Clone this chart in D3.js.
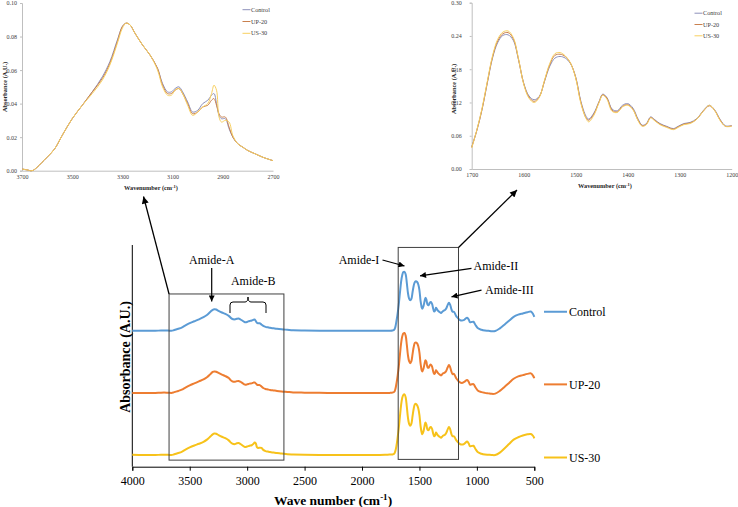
<!DOCTYPE html>
<html><head><meta charset="utf-8">
<script src="https://cdn.jsdelivr.net/npm/d3@7"></script>
<style>
body{margin:0;background:#fff}
svg{display:block}
svg text{font-family:"Liberation Serif","Times New Roman",Times,"DejaVu Serif",serif !important;}
</style>
</head><body><svg id="c" width="738" height="507"></svg>
<script>
// ---------------- DATA ----------------
const seriesNames = ["Control", "UP-20", "US-30"];
const stackOffsets = [0.51, 0.255, 0]; // vertical stacking of spectra (A.U.)

// Amide-A / Amide-B region (left inset)
const wnA = [3700,3680,3660,3640,3620,3600,3570,3540,3500,3460,3420,3380,3350,3320,3300,3285,3270,3250,3220,3190,3160,3140,3120,3105,3090,3075,3060,3040,3020,3000,2980,2960,2945,2935,2925,2915,2905,2890,2875,2860,2840,2820,2800,2770,2740,2700];
const controlA = [0.001,0.0005,0.000,0.002,0.005,0.008,0.013,0.021,0.031,0.039,0.047,0.056,0.065,0.078,0.086,0.088,0.087,0.082,0.075,0.069,0.061,0.052,0.047,0.047,0.049,0.050,0.047,0.041,0.035,0.036,0.040,0.042,0.045,0.046,0.040,0.033,0.031,0.031,0.025,0.020,0.016,0.014,0.012,0.010,0.008,0.006];
const up20A    = [0.001,0.0005,0.000,0.002,0.005,0.008,0.013,0.021,0.031,0.039,0.047,0.055,0.064,0.077,0.086,0.088,0.087,0.082,0.075,0.069,0.061,0.051,0.046,0.046,0.048,0.049,0.046,0.040,0.034,0.035,0.038,0.039,0.042,0.043,0.039,0.034,0.032,0.032,0.026,0.020,0.016,0.014,0.012,0.010,0.008,0.006];
const us30A    = [0.001,0.0005,0.000,0.002,0.005,0.008,0.013,0.021,0.031,0.039,0.046,0.054,0.063,0.076,0.085,0.088,0.087,0.082,0.075,0.069,0.060,0.050,0.045,0.045,0.048,0.049,0.046,0.039,0.033,0.035,0.038,0.040,0.046,0.051,0.048,0.032,0.029,0.030,0.029,0.021,0.016,0.014,0.012,0.010,0.008,0.006];

// Amide-I / II / III region (right inset)
const wnI = [1700,1690,1680,1670,1660,1650,1640,1630,1620,1610,1600,1590,1580,1570,1560,1550,1540,1530,1520,1510,1500,1490,1480,1475,1465,1455,1448,1440,1430,1420,1410,1400,1390,1380,1372,1364,1356,1348,1338,1325,1312,1303,1292,1280,1267,1255,1243,1233,1222,1212,1200];
const controlI = [0.040,0.070,0.108,0.155,0.200,0.228,0.241,0.242,0.232,0.197,0.155,0.132,0.125,0.131,0.158,0.185,0.200,0.203,0.200,0.190,0.166,0.122,0.095,0.090,0.101,0.122,0.135,0.129,0.108,0.105,0.115,0.118,0.110,0.090,0.079,0.082,0.094,0.089,0.082,0.077,0.073,0.077,0.082,0.084,0.091,0.105,0.115,0.107,0.089,0.078,0.078];
const up20I    = [0.039,0.070,0.108,0.156,0.202,0.231,0.244,0.246,0.235,0.198,0.154,0.130,0.122,0.130,0.159,0.188,0.205,0.207,0.203,0.191,0.165,0.120,0.092,0.088,0.099,0.121,0.134,0.128,0.106,0.103,0.113,0.116,0.108,0.088,0.078,0.081,0.093,0.088,0.081,0.076,0.072,0.076,0.081,0.083,0.090,0.104,0.114,0.106,0.088,0.077,0.078];
const us30I    = [0.038,0.071,0.110,0.158,0.204,0.234,0.247,0.249,0.237,0.199,0.153,0.128,0.120,0.129,0.160,0.190,0.208,0.210,0.204,0.191,0.164,0.118,0.091,0.085,0.097,0.120,0.133,0.126,0.104,0.102,0.112,0.115,0.107,0.087,0.077,0.080,0.092,0.087,0.080,0.075,0.071,0.075,0.080,0.082,0.090,0.104,0.115,0.106,0.087,0.077,0.077];

// Remaining parts of the full spectrum (main chart only)
const wnHead = [4000, 3900, 3800, 3750];
const headControl = [0, 0, 0, 0.001];
const headUP20    = [0, 0, 0, 0.001];
const headUS30    = [0.001, 0, 0, 0.001];

const wnMid = [2650, 2600, 2500, 2300, 2100, 1900, 1800, 1760, 1735, 1720, 1710];
const midControl = [0.004, 0.002, 0.001, 0, 0, 0, 0, 0, 0.001, 0.004, 0.015];
const midUP20    = [0.004, 0.002, 0.001, 0, 0, 0, 0, 0, 0.001, 0.004, 0.015];
const midUS30    = [0.003, 0.002, 0.001, 0, 0, 0, 0.001, 0.002, 0.002, 0.005, 0.016];

const wnTail = [1180,1165,1150,1130,1110,1085,1070,1060,1045,1030,1010,990,960,930,900,870,840,800,760,720,680,640,600,560,530,510,500];
const tailControl = [0.060,0.052,0.045,0.042,0.045,0.053,0.045,0.035,0.036,0.037,0.022,0.010,0.004,0.001,0.000,-0.002,-0.001,0.010,0.025,0.041,0.057,0.066,0.071,0.076,0.079,0.068,0.057];
const tailUP20    = [0.060,0.051,0.044,0.041,0.045,0.053,0.044,0.034,0.035,0.036,0.021,0.009,0.003,0.000,-0.002,-0.004,-0.003,0.008,0.024,0.041,0.058,0.068,0.073,0.078,0.080,0.070,0.060];
const tailUS30    = [0.061,0.053,0.046,0.043,0.046,0.055,0.046,0.036,0.037,0.038,0.023,0.011,0.005,0.002,0.001,0.000,0.000,0.010,0.027,0.045,0.063,0.073,0.080,0.085,0.086,0.078,0.068];

const insetATicksX = [3700, 3500, 3300, 3100, 2900, 2700];
const insetATicksY = [0, 0.02, 0.04, 0.06, 0.08, 0.10];
const insetITicksX = [1700, 1600, 1500, 1400, 1300, 1200];
const insetITicksY = [0, 0.06, 0.12, 0.18, 0.24, 0.30];
const mainTicksX = [4000, 3500, 3000, 2500, 2000, 1500, 1000, 500];

// ---------------- STYLE / LAYOUT ----------------
const FONT = '"Liberation Serif","Times New Roman",Times,serif';
const mainColors = ["#5b9bd5", "#ed7d31", "#f7c21a"];
const insetColors = ["#8d90ba", "#c9804e", "#f8d060"];

const svg = d3.select("#c");
svg.append("rect").attr("width", 738).attr("height", 507).attr("fill", "#fff");

const zip = (w, v) => w.map((x, i) => [x, v[i]]);
const A = [controlA, up20A, us30A];
const I = [controlI, up20I, us30I];
const H = [headControl, headUP20, headUS30];
const M = [midControl, midUP20, midUS30];
const T = [tailControl, tailUP20, tailUS30];

// markers
const defs = svg.append("defs");
defs.append("marker").attr("id", "ah").attr("viewBox", "0 0 10 10")
  .attr("refX", 10).attr("refY", 5).attr("markerWidth", 7).attr("markerHeight", 6)
  .attr("markerUnits", "userSpaceOnUse").attr("orient", "auto")
  .append("path").attr("d", "M0,0L10,5L0,10z").attr("fill", "#000");
defs.append("marker").attr("id", "ahBig").attr("viewBox", "0 0 10 10")
  .attr("refX", 10).attr("refY", 5).attr("markerWidth", 9).attr("markerHeight", 7)
  .attr("markerUnits", "userSpaceOnUse").attr("orient", "auto")
  .append("path").attr("d", "M0,0L10,5L0,10z").attr("fill", "#000");

// ---------------- INSETS ----------------
function drawInset(cfg) {
  const g = svg.append("g");
  const x = d3.scaleLinear().domain(cfg.xd).range(cfg.xr);
  const y = d3.scaleLinear().domain(cfg.yd).range(cfg.yr);
  const ax = g.append("g").attr("transform", `translate(0,${cfg.yr[0]})`)
    .call(d3.axisBottom(x).tickValues(cfg.tx).tickFormat(d3.format("d")).tickSize(0).tickPadding(4));
  const ay = g.append("g").attr("transform", `translate(${cfg.xr[0]},0)`)
    .call(d3.axisLeft(y).tickValues(cfg.ty).tickFormat(d3.format(".2f")).tickSize(2).tickPadding(cfg.yPad));
  [ax, ay].forEach(a => {
    a.attr("font-family", FONT);
    a.select(".domain").attr("stroke", "#bfbfbf");
    a.selectAll(".tick line").attr("stroke", "#bfbfbf");
    a.selectAll("text").attr("font-size", 6).attr("fill", "#404040");
  });
  const line = d3.line().x(d => x(d[0])).y(d => y(d[1])).curve(d3.curveCatmullRom.alpha(0.5));
  cfg.data.forEach((d, i) => {
    g.append("path").attr("d", line(d)).attr("fill", "none")
      .attr("stroke", insetColors[i]).attr("stroke-width", 1);
  });
  // axis titles
  const xt = g.append("text").attr("x", cfg.xtPos[0]).attr("y", cfg.xtPos[1])
    .attr("text-anchor", "middle").attr("font-size", 6.3)
    .attr("font-weight", "bold").attr("fill", "#262626").text("Wavenumber (cm");
  xt.append("tspan").attr("baseline-shift", "super").attr("font-size", 4.5).text("-1");
  xt.append("tspan").text(")");
  g.append("text").attr("transform", `translate(${cfg.ytPos[0]},${cfg.ytPos[1]}) rotate(-90)`)
    .attr("text-anchor", "middle").attr("dy", "0.35em").attr("font-size", 6.3)
    .attr("font-weight", "bold").attr("fill", "#262626").text("Absorbance (A.U.)");
  // legend
  seriesNames.forEach((n, i) => {
    const ly = cfg.leg[1] + i * cfg.leg[2];
    g.append("line").attr("x1", cfg.leg[0]).attr("x2", cfg.leg[0] + 8).attr("y1", ly).attr("y2", ly)
      .attr("stroke", insetColors[i]).attr("stroke-width", 1);
    g.append("text").attr("x", cfg.leg[0] + 8.5).attr("y", ly).attr("dy", "0.35em")
      .attr("font-size", 6.2).attr("fill", "#404040").text(n);
  });
}

drawInset({
  xd: [3700, 2700], xr: [22, 273], yd: [0, 0.10], yr: [170.7, 3],
  tx: insetATicksX, ty: insetATicksY, yPad: 3,
  data: A.map(v => zip(wnA, v)),
  xtPos: [151, 190], ytPos: [5, 87], leg: [242.5, 9.7, 11.8]
});
drawInset({
  xd: [1700, 1200], xr: [471.7, 731.7], yd: [0, 0.30], yr: [169, 2.7],
  tx: insetITicksX, ty: insetITicksY, yPad: 8,
  data: I.map(v => zip(wnI, v)),
  xtPos: [605, 187.5], ytPos: [453.5, 89], leg: [694.5, 13.2, 11.3]
});

// ---------------- MAIN CHART ----------------
const x = d3.scaleLinear().domain([4000, 500]).range([132.3, 534.3]);
const y = d3.scaleLinear().domain([-0.048, 0.862]).range([466.7, 245]);

const gx = svg.append("g").attr("transform", `translate(0,${y.range()[0]})`)
  .call(d3.axisBottom(x).tickValues(mainTicksX).tickFormat(d3.format("d")).tickSize(4).tickPadding(6));
gx.attr("font-family", FONT);
gx.select(".domain").attr("stroke", "#000");
gx.selectAll(".tick line").attr("stroke", "#000");
gx.selectAll("text").attr("font-size", 12).attr("fill", "#000");

svg.append("line").attr("x1", x(4000)).attr("x2", x(4000))
  .attr("y1", y.range()[1]).attr("y2", y.range()[0]).attr("stroke", "#000");

const mline = d3.line().x(d => x(d[0])).y(d => y(d[1])).curve(d3.curveCatmullRom.alpha(0.5));
seriesNames.forEach((n, i) => {
  const pts = [].concat(zip(wnHead, H[i]), zip(wnA, A[i]), zip(wnMid, M[i]), zip(wnI, I[i]), zip(wnTail, T[i]))
    .map(d => [d[0], d[1] + stackOffsets[i]]);
  svg.append("path").attr("d", mline(pts)).attr("fill", "none")
    .attr("stroke", mainColors[i]).attr("stroke-width", 2).attr("stroke-linejoin", "round");
  // legend
  const ly = y(stackOffsets[i]) - [19, 8.5, -2.5][i];
  svg.append("line").attr("x1", 544).attr("x2", 567).attr("y1", ly).attr("y2", ly)
    .attr("stroke", mainColors[i]).attr("stroke-width", 2);
  svg.append("text").attr("x", 569).attr("y", ly).attr("dy", "0.35em")
    .attr("font-size", 12).attr("fill", "#000").text(n);
});

// boxes around inset regions
const boxes = [{x0: 3680, x1: 2680, y0: -0.021, y1: 0.661}, {x0: 1685, x1: 1160, y0: -0.018, y1: 0.852}];
boxes.forEach(b => {
  svg.append("rect").attr("x", x(b.x0)).attr("y", y(b.y1))
    .attr("width", x(b.x1) - x(b.x0)).attr("height", y(b.y0) - y(b.y1))
    .attr("fill", "none").attr("stroke", "#404040").attr("stroke-width", 1);
});
// connector arrows to insets
svg.append("line").attr("x1", x(boxes[0].x0)).attr("y1", y(boxes[0].y1))
  .attr("x2", 143.5).attr("y2", 196.5).attr("stroke", "#000").attr("stroke-width", 1.3)
  .attr("marker-end", "url(#ahBig)");
svg.append("line").attr("x1", x(boxes[1].x1)).attr("y1", y(boxes[1].y1))
  .attr("x2", 517).attr("y2", 190).attr("stroke", "#000").attr("stroke-width", 1.3)
  .attr("marker-end", "url(#ahBig)");

// annotations
function label(t, px, py, anchor) {
  svg.append("text").attr("x", px).attr("y", py).attr("dy", "0.35em").attr("text-anchor", anchor)
    .attr("font-size", 12).attr("fill", "#000").text(t);
}
function arrow(x1, y1, x2, y2) {
  svg.append("line").attr("x1", x1).attr("y1", y1).attr("x2", x2).attr("y2", y2)
    .attr("stroke", "#000").attr("stroke-width", 1.2).attr("marker-end", "url(#ah)");
}
label("Amide-A", 211.7, 259.3, "middle");
arrow(211.7, 268, 211.7, 301.5);
label("Amide-B", 253.3, 280.7, "middle");
svg.append("path")
  .attr("d", "M230,313L230,305Q230,302 233,302L245,302Q248,302 248,297Q248,302 251,302L263,302Q266,302 266,305L266,313")
  .attr("fill", "none").attr("stroke", "#000").attr("stroke-width", 1);
label("Amide-I", 359, 259.3, "middle");
arrow(382.5, 260, 404.5, 266);
label("Amide-II", 473.5, 266, "start");
arrow(471.5, 268.3, 420, 275.8);
label("Amide-III", 485, 290, "start");
arrow(481.5, 290.2, 451.5, 296.8);

// main axis titles
const mxt = svg.append("text").attr("x", 333).attr("y", 504.5).attr("text-anchor", "middle")
  .attr("font-size", 13.5).attr("font-weight", "bold").attr("fill", "#000")
  .text("Wave number (cm");
mxt.append("tspan").attr("baseline-shift", "super").attr("font-size", 9).text("-1");
mxt.append("tspan").text(")");
svg.append("text").attr("transform", "translate(125,357) rotate(-90)").attr("dy", "0.35em")
  .attr("text-anchor", "middle").attr("font-size", 14)
  .attr("font-weight", "bold").attr("fill", "#000").text("Absorbance (A.U.)");
</script></body></html>
